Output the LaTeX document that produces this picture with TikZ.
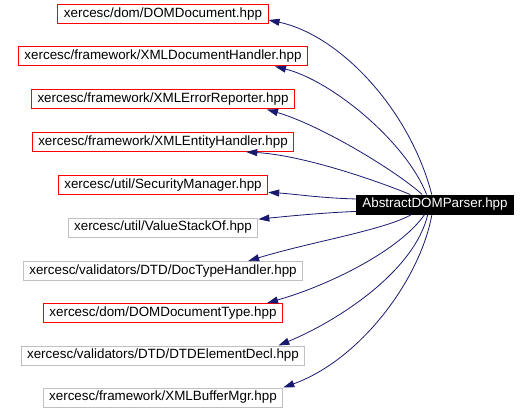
\documentclass[tikz,border=0pt]{standalone}
\usepackage{fontspec}
\setmainfont{Liberation Sans}
\usetikzlibrary{arrows.meta}
\definecolor{edgeblue}{HTML}{191970}
\definecolor{boxgray}{HTML}{C0C0C0}
\begin{document}
\begin{tikzpicture}[x=1pt, y=-1pt,
        file/.style={draw, line width=1pt, inner xsep=6pt, inner ysep=0pt, minimum height=19pt, font=\fontsize{13.4}{16}\selectfont},
        linked/.style={file, draw=red},
        plain/.style={file, draw=boxgray},
        dep/.style={edgeblue, line width=0.8pt, -{Triangle[length=11pt, width=7pt]}}]
        \useasboundingbox (0,0) rectangle (532,414);
        \node at (435,204.5) (parser) [file, draw=black, fill=black, text=white] {AbstractDOMParser.hpp};
        \node at (163,14.5) (domdoc) [linked] {xercesc/dom/DOMDocument.hpp};
        \node at (163,56.5) (dochandler) [linked] {xercesc/framework/XMLDocumentHandler.hpp};
        \node at (163,99.5) (errrep) [linked] {xercesc/framework/XMLErrorReporter.hpp};
        \node at (163,142) (enthandler) [linked] {xercesc/framework/XMLEntityHandler.hpp};
        \node at (163,185) (secmgr) [linked] {xercesc/util/SecurityManager.hpp};
        \node at (163,227.5) (valstack) [plain] {xercesc/util/ValueStackOf.hpp};
        \node at (163,271) (doctype) [plain] {xercesc/validators/DTD/DocTypeHandler.hpp};
        \node at (163,313) (domdoctype) [linked] {xercesc/dom/DOMDocumentType.hpp};
        \node at (163,355.5) (elemdecl) [plain] {xercesc/validators/DTD/DTDElementDecl.hpp};
        \node at (163,397.5) (bufmgr) [plain] {xercesc/framework/XMLBufferMgr.hpp};
        % upper includes
        \draw[dep] (parser.108) .. controls (410,110) and (340,35) .. (domdoc.-3);
        \draw[dep] (parser.130) .. controls (405,140) and (330,80) .. ([xshift=-33pt]dochandler.south east);
        \draw[dep] (parser.142) .. controls (395,170) and (320,125) .. ([xshift=-28pt]errrep.south east);
        \draw[dep] (parser.158) .. controls (370,178) and (300,155) .. ([xshift=-48pt]enthandler.south east);
        \draw[dep] (parser.176) .. controls (320,198) and (295,194) .. (secmgr.-4);
        % lower includes
        \draw[dep] (parser.185) .. controls (320,213) and (290,216) .. (valstack.5);
        \draw[dep] (parser.203) .. controls (385,230) and (310,242) .. ([xshift=-55pt]doctype.north east);
        \draw[dep] (parser.224) .. controls (400,250) and (330,285) .. ([xshift=-16pt]domdoctype.north east);
        \draw[dep] (parser.234) .. controls (415,270) and (340,320) .. ([xshift=-27pt]elemdecl.north east);
        \draw[dep] (parser.253) .. controls (420,280) and (360,360) .. (bufmgr.north east);
\end{tikzpicture}
\end{document}
